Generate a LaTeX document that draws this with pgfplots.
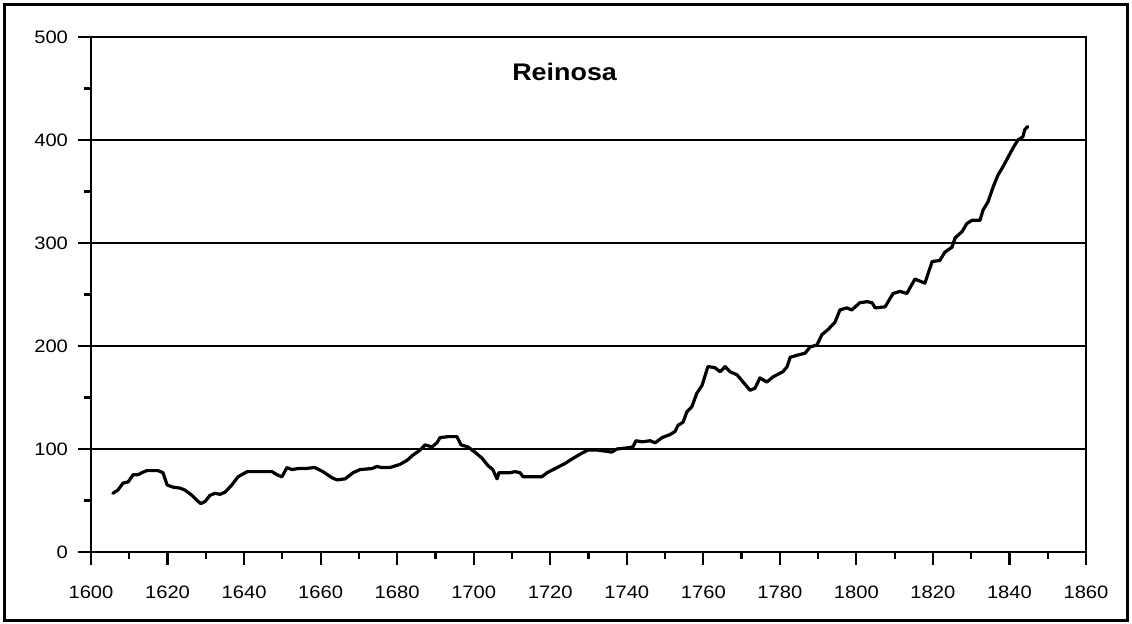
\documentclass[border=0pt]{standalone}
\usepackage{fontspec}
\setmainfont[FakeStretch=1.12]{Liberation Sans}
\usepackage{pgfplots}
\pgfplotsset{compat=1.18}

\begin{document}
\begin{tikzpicture}
\begin{axis}[
  at={(0,0)}, anchor=south west,
  scale only axis,
  width=497.5pt, height=257.5pt,
  xmin=1600, xmax=1860,
  ymin=0, ymax=500,
  xtick={1600,1620,...,1860},
  ytick={0,100,...,500},
  minor x tick num=1,
  minor y tick num=1,
  xtick pos=bottom, ytick pos=left,
  tick align=outside,
  major tick length=6.5pt,
  minor tick length=3.5pt,
  tick style={black, line width=1.1pt},
  axis line style={line width=1.1pt},
  ymajorgrids,
  grid style={black, line width=0.8pt},
  /pgf/number format/1000 sep={},
  /pgf/number format/assume math mode=true,
  ticklabel style={font=\fontsize{9}{10}\selectfont},
  xticklabel style={yshift=-7pt},
  yticklabel style={xshift=-1.5pt},
  clip=false,
]
\addplot[black, line width=1.6pt, line join=round, line cap=round] coordinates {
(1605.7,57) (1607,60) (1608.4,67) (1609.7,68) (1611,75) (1612.3,75) (1613.3,77)
(1614.6,79) (1617.5,79) (1618.8,77) (1619.9,65) (1621.4,63) (1623.3,62) (1624.6,60)
(1626.4,55) (1627.7,50) (1628.7,47) (1629.8,49) (1631.1,55) (1632.4,57) (1633.7,56)
(1635,58) (1636.8,65) (1638.4,73) (1640.8,78) (1644.7,78) (1647.3,78) (1648.6,75)
(1649.9,73) (1651.2,82) (1652.5,80) (1654.1,81) (1655.9,81) (1658.5,82) (1660.6,78)
(1663,72) (1664.3,70) (1666.4,71) (1668.5,77) (1670.3,80) (1673.4,81) (1674.7,83)
(1676,82) (1678.1,82) (1680.7,85) (1682.6,89) (1684.1,94) (1686,99) (1687.3,104)
(1689.1,102) (1690.4,106) (1691.2,111) (1693.3,112) (1695.6,112) (1696.7,104)
(1698.5,102) (1700.3,97) (1702.2,91) (1703.7,84) (1705,80) (1706.1,71) (1706.6,77)
(1708.2,77) (1709.5,77) (1710.8,78) (1712.1,77) (1712.9,73) (1717.8,73) (1719.2,77)
(1721.8,82) (1723.9,86) (1726,91) (1728.3,96) (1729.9,99) (1732.2,99) (1736.1,97)
(1737.4,100) (1740,101) (1741.6,102) (1742.4,108) (1744,107) (1746.1,108) (1747.4,106)
(1749.2,111) (1751.3,114) (1752.6,117) (1753.4,123) (1754.7,126) (1755.7,136)
(1757,141) (1758.3,154) (1759.7,162) (1761.2,180) (1763,179) (1764.4,175) (1765.7,180)
(1767,175) (1768.8,172) (1770.4,165) (1772.2,157) (1773.5,159) (1774.8,169)
(1776.6,165) (1778.2,170) (1780.8,175) (1781.9,180) (1782.7,189) (1784.5,191)
(1786.6,193) (1787.9,199) (1789.7,201) (1791,211) (1792.6,216) (1794.4,223)
(1795.7,235) (1797.5,237) (1798.8,235) (1800.9,242) (1802.8,243) (1804.1,242)
(1804.9,237) (1807.5,238) (1808.3,243) (1809.6,251) (1811.4,253) (1813.2,251)
(1815.3,265) (1817.9,261) (1819.8,282) (1821.8,283) (1823.1,291) (1825,296)
(1825.8,305) (1827.6,311) (1828.9,319) (1830.2,322) (1832.3,322) (1833.1,332)
(1834.4,340) (1835.7,354) (1837,366) (1838.3,374) (1839.6,383) (1840.9,392)
(1842.2,400) (1843.5,403) (1844,410) (1844.8,413)
};
\node[font=\fontsize{12}{14}\selectfont\bfseries] at (rel axis cs:0.476,0.932) {Reinosa};
\end{axis}
\path[use as bounding box] (-45.5pt,-36pt) rectangle (520.5pt,276pt);
\draw[line width=1.5pt] (-43pt,-34.5pt) rectangle (518pt,273.5pt);
\end{tikzpicture}
\end{document}
